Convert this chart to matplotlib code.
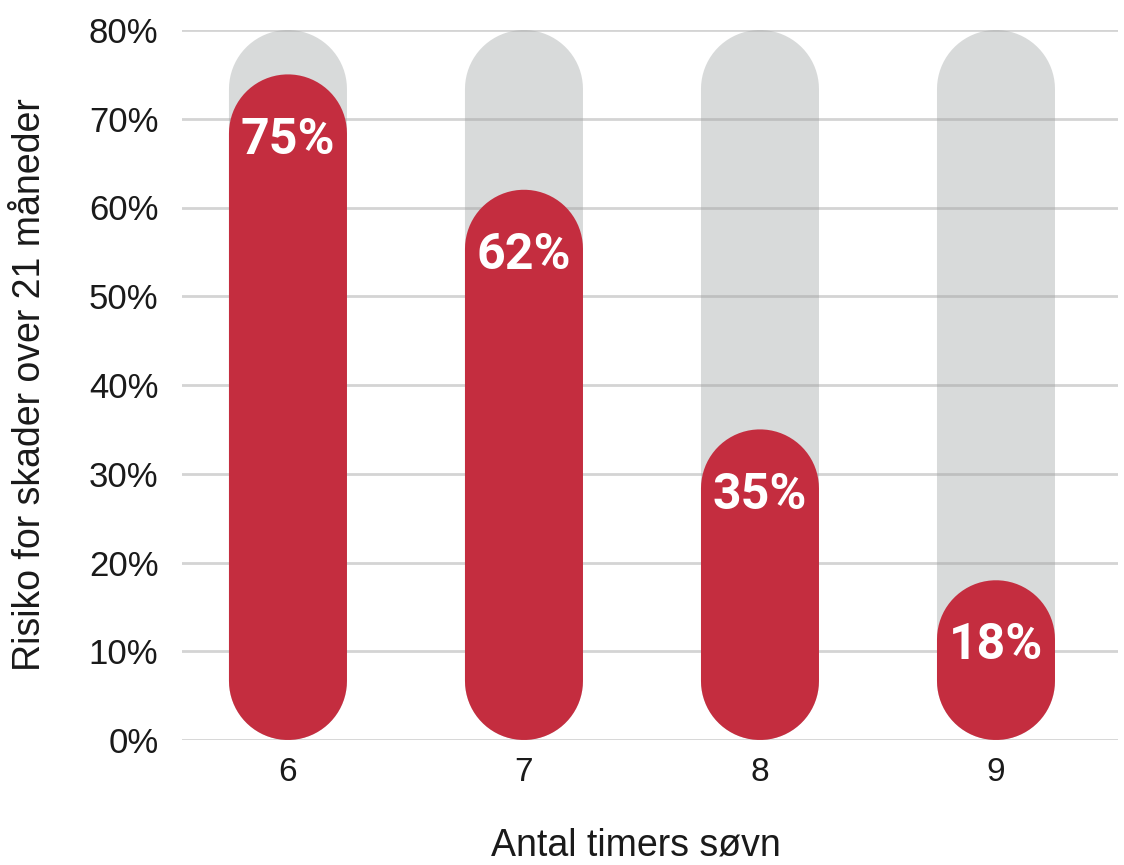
import matplotlib.pyplot as plt
import numpy as np
from matplotlib.path import Path
from matplotlib.patches import PathPatch

hours = [6, 7, 8, 9]
risk = [75, 62, 35, 18]
labels = ['75%', '62%', '35%', '18%']
y_max = 80
y_ticks = [0, 10, 20, 30, 40, 50, 60, 70, 80]

RED = '#c42d3f'
GREY = '#d8dada'
TXT = '#1a1a1a'
BAR_W = 0.5
W, H = 1124, 865


def pill(ax, x, top, w, color, aspect, z):
    # rectangle with half-circle caps at both ends (circle in screen space)
    rx = w / 2
    ry = rx * aspect
    t1 = np.linspace(0, np.pi, 40)
    t2 = np.linspace(np.pi, 2 * np.pi, 40)
    up = np.column_stack([x + rx * np.cos(t1), top - ry + ry * np.sin(t1)])
    dn = np.column_stack([x + rx * np.cos(t2), ry + ry * np.sin(t2)])
    verts = np.vstack([up, dn, up[:1]])
    codes = [Path.MOVETO] + [Path.LINETO] * (len(verts) - 2) + [Path.CLOSEPOLY]
    ax.add_patch(PathPatch(Path(verts, codes), facecolor=color, edgecolor='none', zorder=z))


plt.rcParams['font.family'] = ['Liberation Sans', 'DejaVu Sans']

fig = plt.figure(figsize=(W / 100, H / 100), dpi=100)
ax = fig.add_axes([182 / W, 125 / H, 936 / W, 710 / H])
ax.set_xlim(5.551, 9.517)
ax.set_ylim(0, y_max)

# ratio of y units to x units per pixel so the caps are round
fig.canvas.draw()
p0 = ax.transData.transform((0, 0))
p1 = ax.transData.transform((1, 1))
aspect = (p1[0] - p0[0]) / (p1[1] - p0[1])

for h, r, lab in zip(hours, risk, labels):
    pill(ax, h, y_max, BAR_W, GREY, aspect, 1)
    pill(ax, h, r, BAR_W, RED, aspect, 3)
    ax.text(h, r - 7.4, lab, ha='center', va='center', color='white',
            fontsize=36, fontweight='bold', family='Roboto', zorder=4)

ax.set_yticks(y_ticks)
ax.set_yticklabels([f'{t}%' for t in y_ticks], fontsize=25, color=TXT)
ax.set_xticks(hours)
ax.set_xticklabels([str(h) for h in hours], fontsize=24, color=TXT)
ax.tick_params(length=0, axis='y', pad=17)
ax.tick_params(length=0, axis='x', pad=12)
for y in y_ticks:
    ax.axhline(y, color='#a0a0a0', alpha=0.45, lw=2, zorder=2)
for s in ax.spines.values():
    s.set_visible(False)

fig.text(30 / W, 1 - 385 / H, 'Risiko for skader over 21 måneder', rotation=90,
         ha='center', va='center', fontsize=27, color=TXT)
fig.text(636 / W, 1 - 846 / H, 'Antal timers søvn', ha='center', va='center',
         fontsize=27, color=TXT)

fig.savefig('out.png', dpi=100)
